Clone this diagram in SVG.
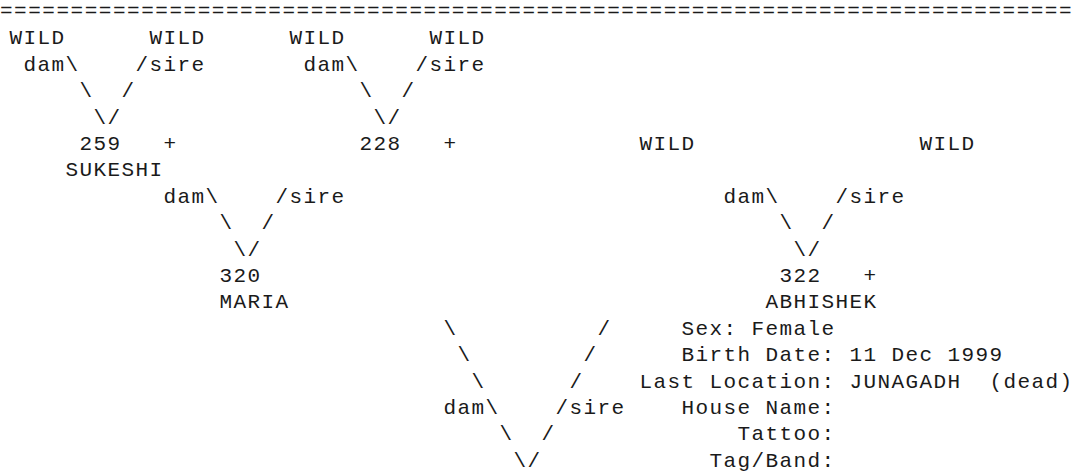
<svg xmlns="http://www.w3.org/2000/svg" width="1074" height="476" viewBox="0 0 1074 476">
<style>
text{font-family:"Liberation Mono","DejaVu Sans Mono",monospace;font-size:21px;letter-spacing:1.4px;fill:#1a1a1a}
</style>
<rect x="0" y="0" width="1074" height="476" fill="#fff"/>
<g id="rule"><text x="0" y="17" textLength="1073" lengthAdjust="spacing">============================================================================</text></g>
<g id="wild1"><text x="9.5" y="44.4">WILD</text></g>
<g id="wild2"><text x="149.5" y="44.4">WILD</text></g>
<g id="wild3"><text x="289.5" y="44.4">WILD</text></g>
<g id="wild4"><text x="429.5" y="44.4">WILD</text></g>
<g id="wild5"><text x="639.5" y="150">WILD</text></g>
<g id="wild6"><text x="919.5" y="150">WILD</text></g>
<g id="n259"><text x="79.5" y="150">259</text><text x="163.5" y="150">+</text><text x="65.5" y="176.4">SUKESHI</text></g>
<g id="n228"><text x="359.5" y="150">228</text><text x="443.5" y="150">+</text></g>
<g id="n320"><text x="219.5" y="282">320</text><text x="219.5" y="308.4">MARIA</text></g>
<g id="n322"><text x="779.5" y="282">322</text><text x="863.5" y="282">+</text><text x="765.5" y="308.4">ABHISHEK</text></g>
<g id="info">
<text x="681.5" y="334.8">Sex: Female</text>
<text x="681.5" y="361.2">Birth Date: 11 Dec 1999</text>
<text x="639.5" y="387.6">Last Location: JUNAGADH</text><text x="989.5" y="387.6">(dead)</text>
<text x="681.5" y="414">House Name:</text>
<text x="737.5" y="440.4">Tattoo:</text>
<text x="709.5" y="466.8">Tag/Band:</text>
</g>
<g id="connectors">
<text x="23.5" y="70.8">dam\</text><text x="135.5" y="70.8">/sire</text>
<text x="79.5" y="97.2">\</text><text x="121.5" y="97.2">/</text>
<text x="93.5" y="123.6">\/</text>
<text x="303.5" y="70.8">dam\</text><text x="415.5" y="70.8">/sire</text>
<text x="359.5" y="97.2">\</text><text x="401.5" y="97.2">/</text>
<text x="373.5" y="123.6">\/</text>
<text x="163.5" y="202.8">dam\</text><text x="275.5" y="202.8">/sire</text>
<text x="219.5" y="229.2">\</text><text x="261.5" y="229.2">/</text>
<text x="233.5" y="255.6">\/</text>
<text x="723.5" y="202.8">dam\</text><text x="835.5" y="202.8">/sire</text>
<text x="779.5" y="229.2">\</text><text x="821.5" y="229.2">/</text>
<text x="793.5" y="255.6">\/</text>
<text x="443.5" y="334.8">\</text><text x="597.5" y="334.8">/</text>
<text x="457.5" y="361.2">\</text><text x="583.5" y="361.2">/</text>
<text x="471.5" y="387.6">\</text><text x="569.5" y="387.6">/</text>
<text x="443.5" y="414">dam\</text><text x="555.5" y="414">/sire</text>
<text x="499.5" y="440.4">\</text><text x="541.5" y="440.4">/</text>
<text x="513.5" y="466.8">\/</text>
</g>
</svg>
